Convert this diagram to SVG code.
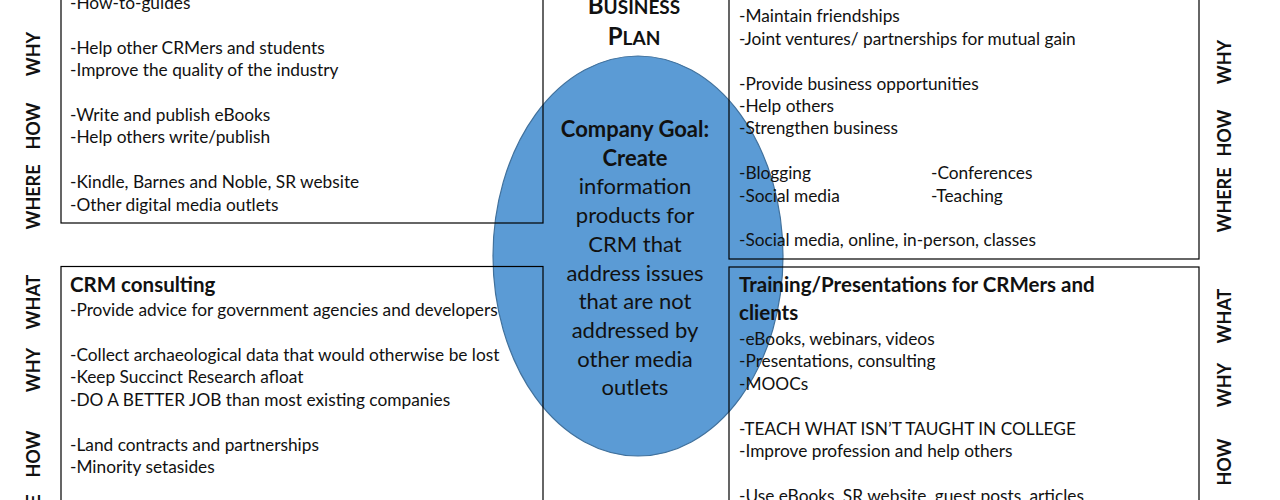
<svg xmlns="http://www.w3.org/2000/svg" width="1280" height="500" viewBox="0 0 1280 500">
<style>
.t{font-family:Lato,"Liberation Sans",sans-serif;font-size:17.3px;fill:#111}
.h{font-family:Lato,"Liberation Sans",sans-serif;font-size:20.5px;font-weight:bold;fill:#111}
.lab{font-family:Lato,"Liberation Sans",sans-serif;font-size:18px;font-weight:bold;fill:#111;text-anchor:middle}
.e{font-family:Lato,"Liberation Sans",sans-serif;font-size:22px;fill:#111;text-anchor:middle}
.eb{font-weight:bold}
.box{fill:none;stroke:#000;stroke-width:1.2}
.title{font-family:Lato,"Liberation Sans",sans-serif;font-weight:bold;fill:#111;text-anchor:middle}
</style>
<rect width="1280" height="500" fill="#fff"/>
<g id="goal">
<ellipse cx="638" cy="256" rx="145" ry="200" fill="#5B9BD5" stroke="#41719C" stroke-width="1.2"/>
<text class="e eb" x="635" y="137">Company Goal:</text>
<text class="e eb" x="635" y="165.7">Create</text>
<text class="e" x="635" y="194.4">information</text>
<text class="e" x="635" y="223.1">products for</text>
<text class="e" x="635" y="251.8">CRM that</text>
<text class="e" x="635" y="280.5">address issues</text>
<text class="e" x="635" y="309.2">that are not</text>
<text class="e" x="635" y="337.9">addressed by</text>
<text class="e" x="635" y="366.6">other media</text>
<text class="e" x="635" y="395.3">outlets</text>
</g>
<g id="title">
<text class="title" x="634" y="14" font-size="19"><tspan font-size="24">B</tspan>USINESS</text>
<text class="title" x="634" y="45" font-size="19"><tspan font-size="24">P</tspan>LAN</text>
</g>
<g id="ebooks">
<rect class="box" x="61" y="-10" width="482" height="233"/>
<text class="t" x="70" y="9">-How-to-guides</text>
<text class="t" x="70" y="54">-Help other CRMers and students</text>
<text class="t" x="70" y="76">-Improve the quality of the industry</text>
<text class="t" x="70" y="121">-Write and publish eBooks</text>
<text class="t" x="70" y="143">-Help others write/publish</text>
<text class="t" x="70" y="188">-Kindle, Barnes and Noble, SR website</text>
<text class="t" x="70" y="211">-Other digital media outlets</text>
</g>
<g id="networking">
<rect class="box" x="729" y="-10" width="470" height="269"/>
<text class="t" x="739" y="22">-Maintain friendships</text>
<text class="t" x="739" y="45">-Joint ventures/ partnerships for mutual gain</text>
<text class="t" x="739" y="90">-Provide business opportunities</text>
<text class="t" x="739" y="112">-Help others</text>
<text class="t" x="739" y="134">-Strengthen business</text>
<text class="t" x="739" y="179">-Blogging</text>
<text class="t" x="931" y="179">-Conferences</text>
<text class="t" x="739" y="202">-Social media</text>
<text class="t" x="931" y="202">-Teaching</text>
<text class="t" x="739" y="246">-Social media, online, in-person, classes</text>
</g>
<g id="consulting">
<rect class="box" x="61" y="266.5" width="482" height="250"/>
<text class="h" x="70" y="292">CRM consulting</text>
<text class="t" x="70" y="316">-Provide advice for government agencies and developers</text>
<text class="t" x="70" y="361">-Collect archaeological data that would otherwise be lost</text>
<text class="t" x="70" y="383">-Keep Succinct Research afloat</text>
<text class="t" x="70" y="406">-DO A BETTER JOB than most existing companies</text>
<text class="t" x="70" y="451">-Land contracts and partnerships</text>
<text class="t" x="70" y="473">-Minority setasides</text>
</g>
<g id="training">
<rect class="box" x="729" y="267" width="470" height="250"/>
<text class="h" x="739" y="292">Training/Presentations for CRMers and</text>
<text class="h" x="739" y="320">clients</text>
<text class="t" x="739" y="345">-eBooks, webinars, videos</text>
<text class="t" x="739" y="367">-Presentations, consulting</text>
<text class="t" x="739" y="390">-MOOCs</text>
<text class="t" x="739" y="435">-TEACH WHAT ISN’T TAUGHT IN COLLEGE</text>
<text class="t" x="739" y="457">-Improve profession and help others</text>
<text class="t" x="739" y="502">-Use eBooks, SR website, guest posts, articles</text>
</g>
<g id="labels-left">
<text class="lab" transform="translate(39.5,54) rotate(-90)">WHY</text>
<text class="lab" transform="translate(39.5,126) rotate(-90)">HOW</text>
<text class="lab" transform="translate(39.5,197) rotate(-90)">WHERE</text>
<text class="lab" transform="translate(39.5,302) rotate(-90)">WHAT</text>
<text class="lab" transform="translate(39.5,370) rotate(-90)">WHY</text>
<text class="lab" transform="translate(39.5,454) rotate(-90)">HOW</text>
<text class="lab" transform="translate(39.5,527) rotate(-90)">WHERE</text>
</g>
<g id="labels-right">
<text class="lab" transform="translate(1231,62) rotate(-90)">WHY</text>
<text class="lab" transform="translate(1231,133) rotate(-90)">HOW</text>
<text class="lab" transform="translate(1231,200) rotate(-90)">WHERE</text>
<text class="lab" transform="translate(1231,316) rotate(-90)">WHAT</text>
<text class="lab" transform="translate(1231,385) rotate(-90)">WHY</text>
<text class="lab" transform="translate(1231,462) rotate(-90)">HOW</text>
</g>
<g id="connectors"/>
</svg>
